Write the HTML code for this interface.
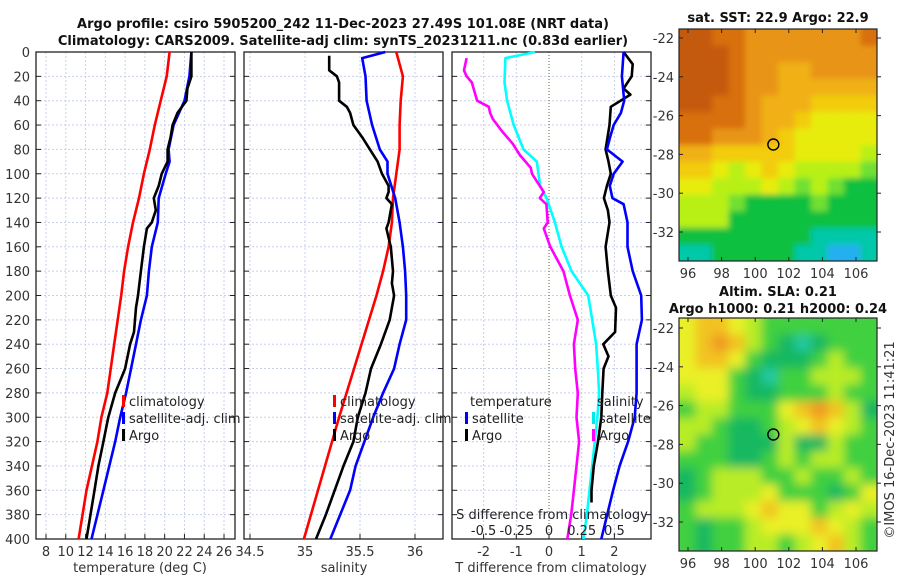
<!DOCTYPE html>
<html><head><meta charset="utf-8">
<style>
html,body{margin:0;padding:0;background:#fff;}
svg{display:block;font-family:"DejaVu Sans","Liberation Sans",sans-serif;}
.tk{font-size:13px;fill:#333;}
.tt{font-size:13px;font-weight:bold;fill:#111;}
.lg{font-size:13px;fill:#222;}
</style></head><body>
<svg id="fig" width="900" height="580" viewBox="0 0 900 580" xmlns="http://www.w3.org/2000/svg">
<defs>
<filter id="blur4" x="0" y="0" width="100%" height="100%"><feGaussianBlur stdDeviation="5"/></filter>
<filter id="blur1" x="0" y="0" width="100%" height="100%"><feGaussianBlur stdDeviation="3"/></filter>
<clipPath id="cpSST"><rect x="679" y="29" width="198" height="232"/></clipPath>
<clipPath id="cpSLA"><rect x="679" y="318" width="198" height="233"/></clipPath>
</defs>
<text class="tt" x="343" y="28" text-anchor="middle">Argo profile: csiro 5905200_242 11-Dec-2023 27.49S 101.08E (NRT data)</text>
<text class="tt" x="343" y="45" text-anchor="middle">Climatology: CARS2009. Satellite-adj clim: synTS_20231211.nc (0.83d earlier)</text>
<text class="tt" x="778" y="22" text-anchor="middle">sat. SST: 22.9 Argo: 22.9</text>
<text class="tt" x="778" y="296" text-anchor="middle">Altim. SLA: 0.21</text>
<text class="tt" x="778" y="313" text-anchor="middle">Argo h1000: 0.21 h2000: 0.24</text>
<text class="tk" transform="translate(894,440) rotate(-90)" text-anchor="middle">©IMOS 16-Dec-2023 11:41:21</text>
<g id="plots"></g>
</svg>
<script>
// ---------- data ----------
const depthTicks=[0,20,40,60,80,100,120,140,160,180,200,220,240,260,280,300,320,340,360,380,400];
const tTicks=[8,10,12,14,16,18,20,22,24,26];
const sTicks=[34.5,35,35.5,36];
const dtTicks=[-2,-1,0,1,2];
const dsTickLabels=["-0.5","-0.25","0","0.25","0.5"];
const dsTicks=[-0.5,-0.25,0,0.25,0.5];

const climDepth=[0,20,40,60,80,100,120,140,160,180,200,240,280,300,320,360,400];
const climT=[20.5,20.2,19.6,19.0,18.5,17.9,17.4,16.8,16.3,15.9,15.6,14.9,14.2,13.6,13.2,12.1,11.3];
const satDepthT=[0,20,40,60,80,90,100,120,140,160,180,200,220,240,280,300,320,360,400];
const satT=[22.7,22.5,22.0,20.9,20.4,20.5,20.1,19.4,19.3,18.7,18.4,18.2,17.6,17.1,16.1,15.5,15.0,13.8,12.6];
const argoDepthT=[0,10,20,30,40,50,60,70,80,90,100,110,120,130,140,145,160,180,200,210,230,240,260,270,280,300,320,340,360,380,400];
const argoT=[22.7,22.7,22.7,22.3,22.2,21.3,20.8,20.6,20.3,20.3,19.7,19.4,18.9,19.1,18.7,18.2,17.9,17.6,17.3,17.1,16.9,16.5,16.0,15.5,15.0,14.3,13.8,13.3,12.9,12.5,12.1];

const climDepthS=[0,20,40,60,80,100,120,140,160,180,200,300,400];
const climS=[35.83,35.89,35.87,35.86,35.86,35.83,35.80,35.79,35.76,35.71,35.65,35.31,34.99];
const satDepthS=[0,5,20,40,60,80,90,100,120,140,160,180,200,220,240,260,280,300,340,360,400];
const satS=[35.73,35.52,35.55,35.56,35.61,35.68,35.75,35.75,35.82,35.86,35.89,35.91,35.92,35.92,35.86,35.81,35.71,35.62,35.46,35.41,35.23];
const argoDepthS=[3,15,20,25,40,45,50,60,70,80,90,100,110,115,120,125,140,145,160,180,190,200,220,240,260,280,300,320,340,360,380,400];
const argoS=[35.22,35.22,35.29,35.31,35.31,35.38,35.41,35.44,35.52,35.59,35.66,35.70,35.76,35.76,35.74,35.79,35.76,35.74,35.78,35.80,35.79,35.81,35.77,35.69,35.60,35.55,35.48,35.44,35.35,35.27,35.19,35.10];

const satDTdepth=[0,20,40,50,60,70,80,90,100,110,120,125,140,160,180,200,220,240,260,280,300,320,340,360,400];
const satDT=[2.28,2.23,2.30,2.20,1.98,1.87,1.77,2.25,1.98,1.86,1.94,2.28,2.40,2.40,2.56,2.82,2.84,2.68,2.68,2.68,2.62,2.42,2.16,1.96,1.60];
const argoDTdepth=[0,10,20,30,35,45,60,80,90,100,110,120,130,140,160,180,200,210,230,240,250,260,280,300,320,340,360,370];
const argoDT=[2.28,2.56,2.53,2.28,2.49,1.89,1.85,1.73,1.82,1.89,1.77,1.68,1.80,1.85,1.73,1.80,1.89,2.05,2.02,1.66,1.82,1.67,1.63,1.60,1.50,1.37,1.30,1.30];
const satDSdepth=[0,5,25,40,60,80,90,100,110,120,140,160,180,200,220,240,260,280,300,320,340,360,380,400];
const satDS=[-0.106,-0.333,-0.34,-0.32,-0.27,-0.195,-0.093,-0.08,-0.068,-0.018,0.045,0.096,0.172,0.30,0.33,0.36,0.373,0.383,0.37,0.35,0.33,0.31,0.29,0.264];
const argoDSdepth=[5,15,20,25,40,45,50,55,65,75,85,95,100,110,115,120,125,140,145,160,180,200,220,240,260,280,300,320,340,360,380,400];
const argoDS=[-0.63,-0.65,-0.63,-0.59,-0.55,-0.46,-0.45,-0.43,-0.36,-0.28,-0.22,-0.14,-0.13,-0.07,-0.04,-0.07,-0.02,-0.01,-0.04,0.01,0.11,0.16,0.22,0.19,0.20,0.22,0.21,0.23,0.21,0.19,0.17,0.14];

const sstRows=["998877777778","999877777777","999877667777","999877666666","998876665555","888876654444","887776544444","665555544443","554345433332","443334323211","333211112111","333111111111","111111110000","001111100aa0"];
const slaRows=["455432222222","456532101222","455421112322","444210223332","344211222322","233222456531","332112345432","322111311322","222112323322","123332232232","123334222124","233345442343","212234445432","212233234532"];

// ---------- scales ----------
const Y0=52,Y1=539;
const yD=d=>Y0+d*(Y1-Y0)/400;
const xT=t=>46+(t-8)*9.89;
const xS=s=>305+(s-35)*110;
const xDT=v=>549+v*32.7;
const xDS=v=>549+v*130.8;

const NS="http://www.w3.org/2000/svg";
const root=document.getElementById('plots');
function mk(tag,attrs,parent){const e=document.createElementNS(NS,tag);for(const k in attrs)e.setAttribute(k,attrs[k]);(parent||root).appendChild(e);return e;}

const panels=[
 {x0:36,x1:235,name:'temperature-panel',ticks:tTicks,fx:xT,lab:v=>String(v),title:'temperature (deg C)',tx:140},
 {x0:244,x1:443,name:'salinity-panel',ticks:sTicks,fx:xS,lab:v=>String(v),title:'salinity',tx:344},
 {x0:452,x1:651,name:'difference-panel',ticks:dtTicks,fx:xDT,lab:v=>String(v),title:'T difference from climatology',tx:551}
];
panels.forEach((p,pi)=>{
 const g=mk('g',{});
 
 
 depthTicks.forEach(d=>{const l=mk('line',{x1:p.x0,x2:p.x1,y1:yD(d),y2:yD(d),stroke:'#c8d0ec','stroke-width':1,'stroke-dasharray':'2,2'},g);
  
  });
 p.ticks.forEach(v=>{const x=p.fx(v);
  const zero=(pi===2&&v===0);
  const l=mk('line',{x1:x,x2:x,y1:Y0,y2:Y1,stroke:zero?'#556b2f':'#c8d0ec','stroke-width':1,'stroke-dasharray':zero?'1,2':'2,2'},g);
  
  
  mk('line',{x1:x,x2:x,y1:Y1,y2:Y1-5,stroke:'#222'},g);
  const t=mk('text',{x:x,y:556,'text-anchor':'middle',class:'tk'},g);t.textContent=p.lab(v);
  
  
 });
 depthTicks.forEach(d=>{mk('line',{x1:p.x0,x2:p.x0+5,y1:yD(d),y2:yD(d),stroke:'#222'},g);mk('line',{x1:p.x1,x2:p.x1-5,y1:yD(d),y2:yD(d),stroke:'#222'},g);});
 const fr=mk('rect',{x:p.x0,y:Y0,width:p.x1-p.x0,height:Y1-Y0,fill:'none',stroke:'#222','stroke-width':1.3},g);
 
 
 const at=mk('text',{x:p.tx,y:572,'text-anchor':'middle',class:'tk'},g);at.textContent=p.title;
 
 
});
depthTicks.forEach(d=>{const t=mk('text',{x:30,y:yD(d)+5,'text-anchor':'end',class:'tk'});t.textContent=String(d);
 
 });

function line(depths,vals,fx,color,name){
 const pts=depths.map((d,i)=>fx(vals[i]).toFixed(1)+','+yD(d).toFixed(1)).join(' ');
 const pl=mk('polyline',{points:pts,fill:'none',stroke:color,'stroke-width':2.6,'stroke-linejoin':'round'});
 
 
}
line(climDepth,climT,xT,'#ff0000','temp-climatology-line');
line(satDepthT,satT,xT,'#0000ff','temp-satellite-line');
line(argoDepthT,argoT,xT,'#000000','temp-argo-line');
line(climDepthS,climS,xS,'#ff0000','sal-climatology-line');
line(satDepthS,satS,xS,'#0000ff','sal-satellite-line');
line(argoDepthS,argoS,xS,'#000000','sal-argo-line');
line(satDSdepth,satDS,xDS,'#00ffff','sdiff-satellite-line');
line(argoDSdepth,argoDS,xDS,'#ff00ff','sdiff-argo-line');
line(argoDTdepth,argoDT,xDT,'#000000','tdiff-argo-line');
line(satDTdepth,satDT,xDT,'#0000ff','tdiff-satellite-line');

{const t=mk('text',{x:552,y:519,'text-anchor':'middle',class:'lg'});t.textContent='S difference from climatology';
 
 }
dsTicks.forEach((v,i)=>{const t=mk('text',{x:xDS(v),y:535,'text-anchor':'middle',class:'lg'});t.textContent=dsTickLabels[i];
 
 });

function legend(x,y,color,label,name){
 if(color){mk('rect',{x:x,y:y-11,width:3,height:12,fill:color});}
 const t=mk('text',{x:x+7,y:y,class:'lg'});t.textContent=label;
 
 
}
legend(122,406,'#ff0000','climatology','legend-entry-climatology');
legend(122,423,'#0000ff','satellite-adj. clim','legend-entry-satellite');
legend(122,440,'#000000','Argo','legend-entry-argo');
legend(333,406,'#ff0000','climatology','legend-entry-climatology');
legend(333,423,'#0000ff','satellite-adj. clim','legend-entry-satellite');
legend(333,440,'#000000','Argo','legend-entry-argo');
legend(463,406,null,'temperature','legend-header-temperature');
legend(465,423,'#0000ff','satellite','legend-entry-t-satellite');
legend(465,440,'#000000','Argo','legend-entry-t-argo');
legend(590,406,null,'salinity','legend-header-salinity');
legend(592,423,'#00e8e8','satellite','legend-entry-s-satellite');
legend(592,440,'#ff00ff','Argo','legend-entry-s-argo');

// ---------- maps ----------
const lonTicks=[96,98,100,102,104,106];
const latTicks=[-22,-24,-26,-28,-30,-32];
const sstCol={'9':'#c45a0a','8':'#d8700a','7':'#e89412','6':'#f0b014','5':'#f2cc0a','4':'#e8ec10','3':'#b8f018','2':'#70e030','1':'#08c040','0':'#06c8a8','a':'#20b0f0'};
const slaCol={'6':'#f09a20','5':'#f2c224','4':'#eaf028','3':'#b8ec28','2':'#40d040','1':'#18b860','0':'#20c8a0'};
function drawMap(x0,y0,w,h,rows,cols,clip,filt,name,latTop,latStep){
 const g=mk('g',{'clip-path':'url(#'+clip+')'});
 
 
 const gi=mk('g',{filter:'url(#'+filt+')'},g);
 const nr=rows.length,nc=rows[0].length,cw=w/nc,ch=h/nr;
 mk('rect',{x:x0,y:y0,width:w,height:h,fill:cols['2']||'#40d040'},gi);
 rows.forEach((r,ri)=>{for(let ci=0;ci<nc;ci++){
  let x=x0+ci*cw,y=y0+ri*ch,ww=cw+0.6,hh=ch+0.6;
  if(ci===0){x-=8;ww+=8;} if(ci===nc-1){ww+=8;}
  if(ri===0){y-=8;hh+=8;} if(ri===nr-1){hh+=8;}
  mk('rect',{x:x.toFixed(1),y:y.toFixed(1),width:ww.toFixed(1),height:hh.toFixed(1),fill:cols[r[ci]]},gi);}});
 mk('rect',{x:x0,y:y0,width:w,height:h,fill:'none',stroke:'#222','stroke-width':1.2});
 const xLon=lo=>688+(lo-96)*16.8;
 const yLat=la=>latTop+(-22-la)*latStep;
 lonTicks.forEach(lo=>{const x=xLon(lo);mk('line',{x1:x,x2:x,y1:y0+h,y2:y0+h-4,stroke:'#222'});mk('line',{x1:x,x2:x,y1:y0,y2:y0+4,stroke:'#222'});
  const t=mk('text',{x:x,y:y0+h+17,'text-anchor':'middle',class:'tk'});t.textContent=String(lo);
  
  });
 latTicks.forEach(la=>{const y=yLat(la);mk('line',{x1:x0+w,x2:x0+w+4,y1:y,y2:y,stroke:'#222'});mk('line',{x1:x0,x2:x0+4,y1:y,y2:y,stroke:'#222'});
  const t=mk('text',{x:x0-5,y:y+5,'text-anchor':'end',class:'tk'});t.textContent=String(la);
  
  });
 const c=mk('circle',{cx:xLon(101.08),cy:yLat(-27.49),r:5.5,fill:'none',stroke:'#000','stroke-width':1.4});
 
 
}
drawMap(679,29,198,232,sstRows,sstCol,'cpSST','blur1','sst-map',38,19.4);
drawMap(679,318,198,233,slaRows,slaCol,'cpSLA','blur4','sla-map',328,19.4);
</script>
</body></html>
